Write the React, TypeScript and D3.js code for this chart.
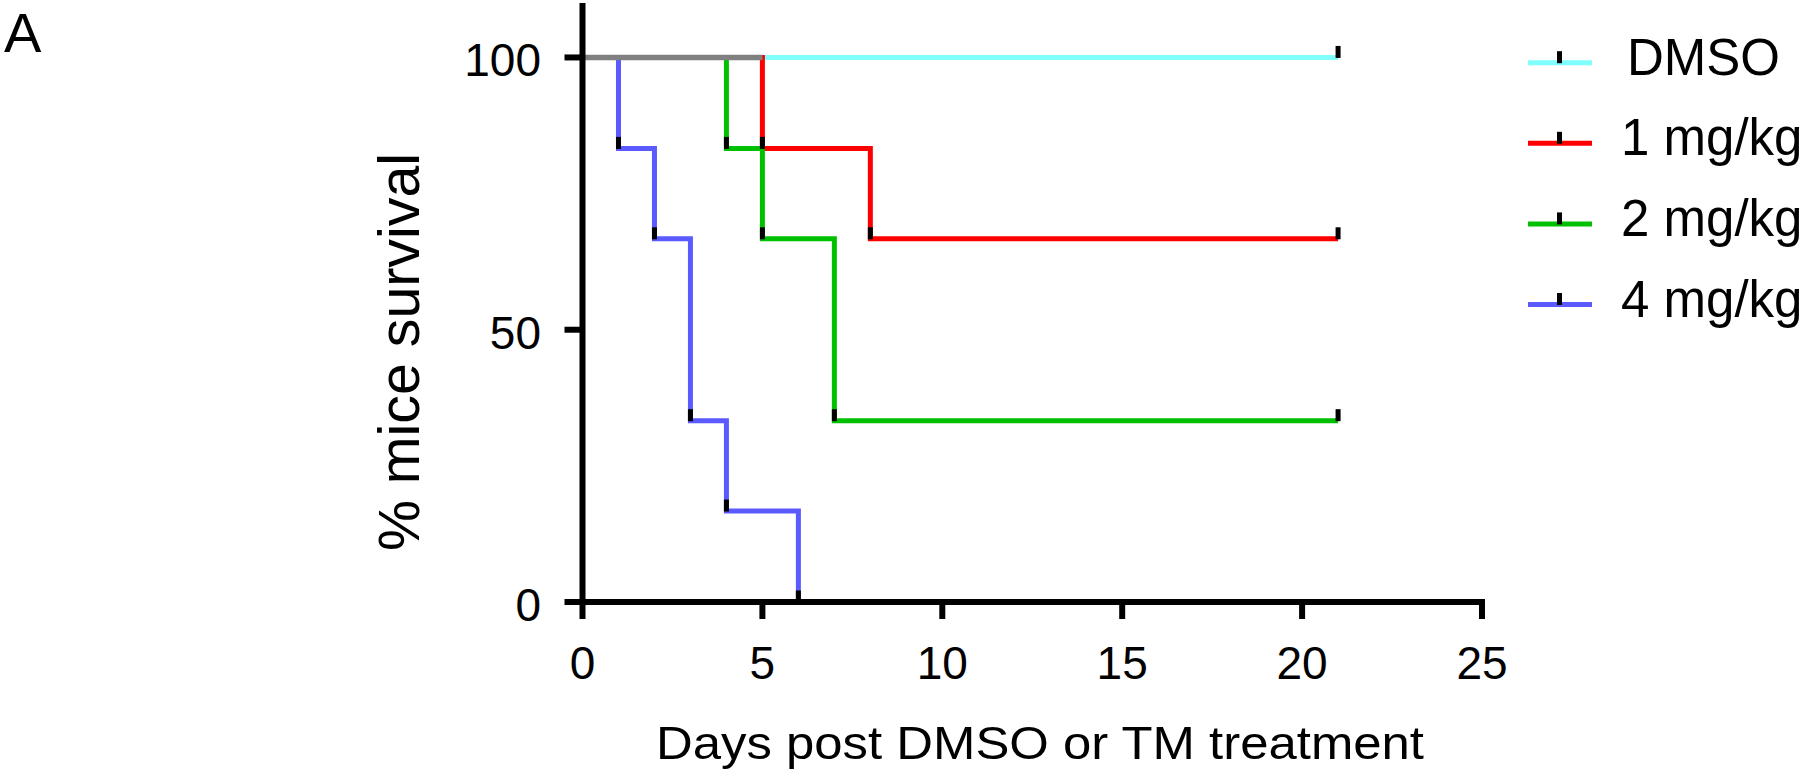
import * as d3 from "d3";

const W = 1802;
const H = 776;

// survival curves: [day, % survival]; first point is start, the rest are steps / last follow-up
const groups = ["DMSO", "1 mg/kg", "2 mg/kg", "4 mg/kg"];
const colors = ["#80ffff", "#ff0000", "#00c000", "#5a5aff"];
const dmso: [number, number][] = [[0, 100], [21, 100]];
const mg1: [number, number][] = [[0, 100], [5, 83.3], [8, 66.7], [21, 66.7]];
const mg2: [number, number][] = [[0, 100], [4, 83.3], [5, 66.7], [7, 33.3], [21, 33.3]];
const mg4: [number, number][] = [[0, 100], [1, 83.3], [2, 66.7], [3, 33.3], [4, 16.7], [6, 0]];
const series = [dmso, mg1, mg2, mg4];

const xTicks = [0, 5, 10, 15, 20, 25];
const yTicks = [0, 50, 100];

const FONT = "'Liberation Sans', Arial, sans-serif";

export default function App() {
  const x = d3.scaleLinear().domain([0, 25]).range([582.5, 1482]);
  const y = d3.scaleLinear().domain([0, 110]).range([602, 3]);

  const line = d3
    .line<[number, number]>()
    .x((d) => x(d[0]))
    .y((d) => y(d[1]))
    .curve(d3.curveStepAfter);

  // grey where two or more curves still share the 100% line
  const leaveTop = series
    .map((s) => {
      const drop = s.find((p) => p[1] < 100);
      return drop ? drop[0] : s[s.length - 1][0];
    })
    .sort((a, b) => b - a);
  const sharedUntil = leaveTop[1];

  const legendY = (i: number) => 62.7 + i * 80.6;

  return (
    <svg
      width={W}
      height={H}
      style={{ position: "absolute", left: 0, top: 0, background: "#fff" }}
      fontFamily={FONT}
    >
      <text x={4} y={52} fontSize={56}>
        A
      </text>

      {/* curves */}
      {series.map((s, i) => (
        <path
          key={groups[i]}
          d={line(s) ?? ""}
          fill="none"
          stroke={colors[i]}
          strokeWidth={5}
          strokeLinecap="butt"
          strokeLinejoin="miter"
        />
      ))}
      <path
        d={line([[0, 100], [sharedUntil, 100]]) ?? ""}
        stroke="#808080"
        strokeWidth={5.5}
        fill="none"
      />
      {/* tick-mark symbols */}
      {series.map((s, i) =>
        s.slice(1).map((p, j) => (
          <rect
            key={`${i}-${j}`}
            x={x(p[0]) - 2.5}
            y={y(p[1]) - 11.5}
            width={5}
            height={12}
            fill="#000"
          />
        )),
      )}

      {/* axes */}
      <line x1={x(0)} x2={x(0)} y1={y(110)} y2={y(0) + 3} stroke="#000" strokeWidth={6} />
      <line x1={x(0) - 3} x2={x(25) + 3} y1={y(0)} y2={y(0)} stroke="#000" strokeWidth={6} />
      {yTicks.map((t) => (
        <g key={t}>
          <line x1={x(0) - 18} x2={x(0)} y1={y(t)} y2={y(t)} stroke="#000" strokeWidth={6} />
          <text x={541} y={y(t) + 19} textAnchor="end" fontSize={46}>
            {t}
          </text>
        </g>
      ))}
      {xTicks.map((t) => (
        <g key={t}>
          <line x1={x(t)} x2={x(t)} y1={y(0)} y2={y(0) + 17} stroke="#000" strokeWidth={6} />
          <text x={x(t)} y={679} textAnchor="middle" fontSize={46}>
            {t}
          </text>
        </g>
      ))}
      <text
        transform={`translate(419,352) rotate(-90)`}
        textAnchor="middle"
        fontSize={58}
        textLength={398}
        lengthAdjust="spacingAndGlyphs"
      >
        % mice survival
      </text>
      <text
        x={1040}
        y={759}
        textAnchor="middle"
        fontSize={47}
        textLength={768}
        lengthAdjust="spacingAndGlyphs"
      >
        Days post DMSO or TM treatment
      </text>

      {/* legend */}
      {groups.map((g, i) => (
        <g key={g}>
          <line x1={1528} x2={1592} y1={legendY(i)} y2={legendY(i)} stroke={colors[i]} strokeWidth={5} />
          <rect x={1557} y={legendY(i) - 11.5} width={5} height={12} fill="#000" />
          <text x={i === 0 ? 1627 : 1621} y={legendY(i) + 12} fontSize={51}>
            {g}
          </text>
        </g>
      ))}
    </svg>
  );
}
